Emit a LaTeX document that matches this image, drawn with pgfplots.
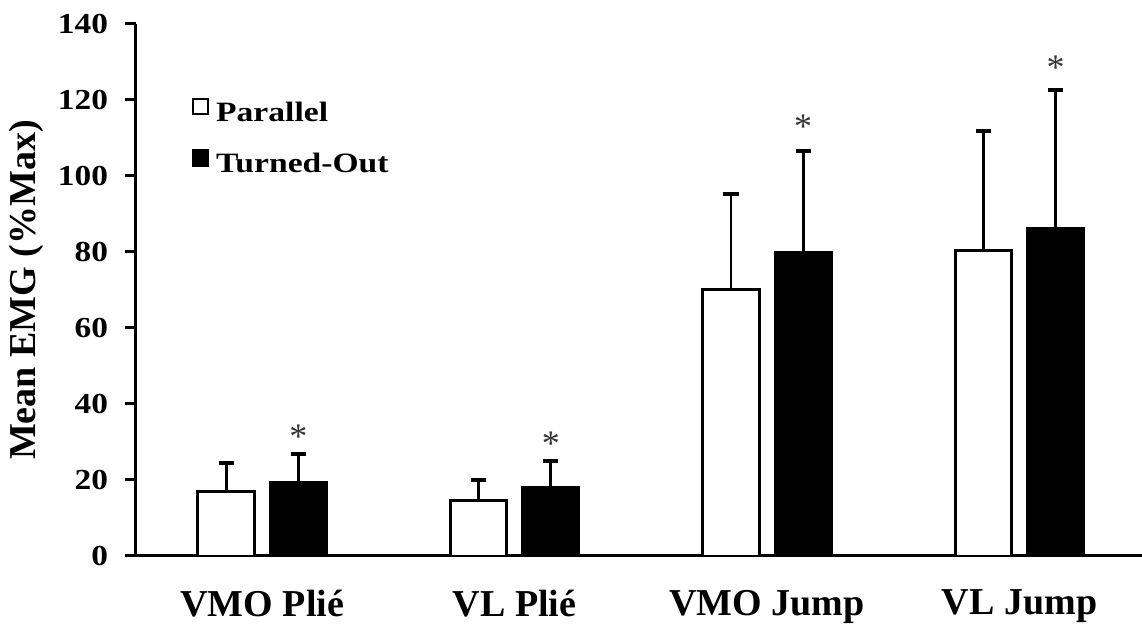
\documentclass[border=0pt]{standalone}
\usepackage{fontspec}
\setmainfont{Liberation Serif}
\newfontfamily\stretchfont{Liberation Serif}[FakeStretch=1.15]
\newfontfamily\legfont{Liberation Serif}[FakeStretch=1.2]
\usepackage{pgfplots}
\pgfplotsset{compat=1.18}
\usepackage{pgfplotstable}

% x = category position (0..3) shifted to the bar's place in its pair
\pgfplotstableread{
x y e
-0.143 16.9 7.7
0.857 14.7 5.3
1.857 70.2 25.1
2.857 80.3 31.6
}\parallel

\pgfplotstableread{
x y e
0.143 19.4 7.4
1.143 18.0 7.0
2.143 79.8 26.7
3.143 86.2 36.4
}\turned

\pgfplotstableread{
x y
0.143 31.5
1.143 29.5
2.143 113.0
3.143 128.5
}\stars

\begin{document}
\begin{tikzpicture}
\begin{axis}[
  name=ax,
  scale only axis,
  width=503pt, height=266pt,
  xmin=-0.5, xmax=3.485,
  ymin=0, ymax=140,
  ytick={0,20,...,140},
  xtick={0,1,2,3},
  xticklabels={VMO Plié, VL Plié, VMO Jump, VL Jump},
  axis x line=bottom, axis y line=left,
  axis line style={-, line width=1.5pt},
  xtick style={draw=none},
  ytick style={line width=1.5pt, black},
  tick align=outside,
  major tick length=5.5pt,
  /pgf/number format/assume math mode=true,
  yticklabel style={font=\fontsize{14.5}{15}\stretchfont\bfseries, anchor=east, xshift=-5pt},
  xticklabel style={font=\fontsize{19}{20}\selectfont\bfseries, yshift=-8pt},
  ylabel={Mean EMG (\%Max)},
  every axis y label/.style={at={(axis description cs:-0.1093,0.5)}, rotate=90, anchor=center, font=\fontsize{19}{20}\selectfont\bfseries},
  legend style={draw=none, fill=none, at={(axis description cs:0.055,0.862)}, anchor=north west,
    font=\fontsize{14}{15}\legfont\bfseries, row sep=10.5pt, inner sep=0pt},
  legend cell align=left,
  clip=false,
]
\addplot[ybar, bar width=0.224, bar shift=0pt, draw=black, fill=white, line width=1.4pt,
  error bars/.cd, y dir=plus, y explicit,
  error mark=-, error bar style={line width=1.4pt, black, solid},
  error mark options={line width=2pt, mark size=3.8pt, black, rotate=90},
  /pgfplots/legend image code/.code={\draw[draw=black, fill=white, line width=1.2pt] (0pt,-0.5pt) rectangle (7.5pt,7pt);}]
  table[x=x, y=y, y error=e] {\parallel};
\addplot[ybar, bar width=0.224, bar shift=0pt, draw=black, fill=black, line width=1.4pt,
  error bars/.cd, y dir=plus, y explicit,
  error mark=-, error bar style={line width=1.4pt, black, solid},
  error mark options={line width=2pt, mark size=3.8pt, black, rotate=90},
  /pgfplots/legend image code/.code={\draw[draw=black, fill=black, line width=1.2pt] (0pt,-0.5pt) rectangle (7.5pt,7pt);}]
  table[x=x, y=y, y error=e] {\turned};
\addplot[draw=none, mark=none, forget plot,
  nodes near coords={*},
  nodes near coords style={anchor=center, text=black!80, font=\fontsize{18}{18}\selectfont}]
  table[x=x, y=y] {\stars};
\legend{\hspace{1.5pt}Parallel, \hspace{1.5pt}Turned-Out}
\end{axis}
\pgfresetboundingbox
\path[use as bounding box] ([shift={(-68pt,-34pt)}]ax.south west) rectangle ([shift={(503pt,278pt)}]ax.south west);
\end{tikzpicture}
\end{document}
